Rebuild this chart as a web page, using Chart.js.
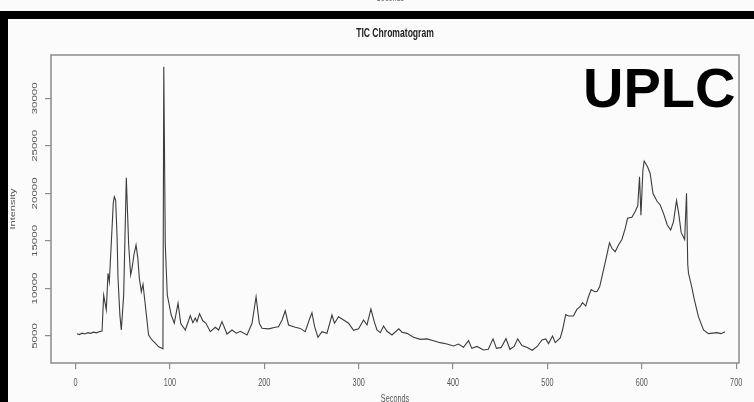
<!DOCTYPE html>
<html>
<head>
<meta charset="utf-8">
<script src="https://cdn.jsdelivr.net/npm/chart.js@4.4.1/dist/chart.umd.min.js"></script>
<style>
html, body { margin: 0; padding: 0; background: #fbfbfb; }
#wrap { position: relative; width: 754px; height: 402px; overflow: hidden; background: #fbfbfb; }
#chart { position: absolute; left: 0; top: 0; }
.bar-top { position: absolute; left: 0; top: 11px; width: 754px; height: 8px; background: #000; }
.bar-left { position: absolute; left: 0; top: 11px; width: 8px; height: 391px; background: #000; }
.prev-label { position: absolute; left: 376px; top: -9px; font: 11px "Liberation Sans", Arial, sans-serif; color: #666; transform: scaleX(0.66); transform-origin: left top; }
</style>
</head>
<body>
<div id="wrap">
  <canvas id="chart" width="754" height="402"></canvas>
  <div class="prev-label">Seconds</div>
  <div class="bar-top"></div>
  <div class="bar-left"></div>
</div>
<script>
// retention time (s) and total ion current
const seconds = [
  1.6, 4, 7, 10, 13, 16, 19, 22, 25, 28.1,
  29.8, 32.6, 34.4, 35.8, 38, 40, 41.1, 42.5, 44, 45, 47, 48.5,
  51, 53.8, 56.3, 58.4, 59.9, 62, 64.1, 66, 67.6, 69.7, 71.5, 73.9, 77.4, 81, 85, 88, 91.6, 92.6,
  93.5, 95.1, 97.2, 101.4, 104.6, 108.6, 111.5, 116.3, 121.6, 124.3, 126.9, 128.7, 131.4, 134.9, 138.2, 142.8,
  148.1, 151.6, 155.2, 160.5, 165.8, 170.3, 174.6, 181.7, 187, 191.3, 194.7, 197.6, 204.6, 211.7, 215.1, 218.8,
  222.2, 225.7, 232.8, 238.1, 243.4, 247.6, 250.5, 253.3, 256.9, 261.1, 266.4, 271.7, 274.4, 278.7, 284, 289.3,
  294.6, 299.9, 305.2, 308.8, 313, 316.5, 319.4, 322.9, 326.4, 330, 335.3, 342.5, 345.9, 351.2, 358.2, 365.3,
  372.4, 379.3, 386.4, 393.5, 400.5, 405.8, 411.1, 416.4, 420, 425.3, 432.3, 437.3, 442.4, 446, 451, 456.1,
  460.3, 464.8, 468.5, 473, 478.6, 483.9, 489.2, 494.2, 498.2, 501.2, 505.4, 508.3, 513.6, 516, 519.4, 522.4,
  527.6, 531.2, 534.7, 537.2, 540.6, 543.5, 546.4, 550.1, 552.8, 555.4, 559.4, 562.3, 565.8, 568.3, 571.8, 575.3,
  578.9, 582.4, 584.9, 589.5, 593, 595.7, 597.6, 599.1, 601.2, 602.5, 606.1, 608.9, 611.8, 616, 619.5, 623,
  626.9, 630.6, 633.6, 636.8, 639.1, 641.7, 645.4, 647.4, 648.7, 649.5, 653.1, 655.5, 660, 665.4, 670.6, 675.1,
  679.6, 683.9, 688.3
];
const intensity = [
  5240, 5150, 5300, 5220, 5350, 5280, 5400, 5330, 5450, 5530,
  9300, 7750, 11600, 10700, 15000, 19000, 19650, 19300, 15500, 11100, 7200, 5630,
  9300, 21650, 14570, 11420, 12150, 13600, 14570, 13200, 11070, 9660, 10440, 8260, 5110, 4580, 4200, 3870, 3700, 3650,
  33330, 14570, 9310, 7210, 6340, 8440, 6300, 5630, 7150, 6400, 6900, 6500, 7350, 6600, 6340, 5460,
  5920, 5630, 6510, 5210, 5630, 5300, 5500, 5110, 6340, 9130, 6340, 5810, 5750, 5920, 5980, 6680,
  7650, 6160, 5920, 5800, 5460, 6680, 7450, 5980, 4860, 5460, 5280, 7210, 6340, 7030, 6680, 6340,
  5600, 5750, 6680, 6160, 7850, 6510, 5630, 5350, 6050, 5500, 5110, 5750, 5400, 5280, 4860, 4650,
  4700, 4510, 4300, 4160, 3950, 4150, 3810, 4510, 3700, 3900, 3530, 3600, 4700, 3700, 3800, 4720,
  3600, 3900, 4700, 4000, 3800, 3500, 3900, 4580, 4700, 4200, 5000, 4300, 4800, 5630, 7250, 7100,
  7100, 7800, 8080, 8500, 8150, 9130, 9880, 9660, 9700, 10200, 11940, 13220, 14800, 14230, 13870, 14570,
  15150, 16300, 17380, 17500, 18100, 18700, 21760, 17700, 22460, 23400, 22800, 22100, 20010, 19200, 18780, 17900,
  16700, 16150, 17030, 19250, 17900, 15900, 15150, 20010, 12500, 11600, 10100, 8900, 7030, 5630, 5250, 5300,
  5350, 5250, 5450
];
const xTicks = [0, 100, 200, 300, 400, 500, 600, 700];
const yTicks = [5000, 10000, 15000, 20000, 25000, 30000];
const xRange = [-26, 703];
const yRange = [2160, 34560];

const FONT = '"Liberation Sans", Arial, sans-serif';
const SQUEEZE = 0.66;

// box, tick labels, titles and the badge, drawn in base-graphics style
const frameAndText = {
  id: 'frameAndText',
  afterDraw(chart) {
    const ctx = chart.ctx;
    const area = chart.chartArea;
    const xs = chart.scales.x, ys = chart.scales.y;
    ctx.save();
    ctx.strokeStyle = '#8c8c8c';
    ctx.lineWidth = 1.5;
    ctx.strokeRect(area.left, area.top, area.right - area.left, area.bottom - area.top);

    ctx.fillStyle = '#555';
    ctx.textAlign = 'center';
    ctx.textBaseline = 'middle';
    ctx.font = '11px ' + FONT;
    xTicks.forEach(v => {
      ctx.save();
      ctx.translate(xs.getPixelForValue(v), 383);
      ctx.scale(SQUEEZE, 1);
      ctx.fillText(String(v), 0, 0);
      ctx.restore();
    });
    ctx.font = '11.5px ' + FONT;
    yTicks.forEach(v => {
      ctx.save();
      ctx.translate(35, ys.getPixelForValue(v));
      ctx.scale(SQUEEZE, 1);
      ctx.rotate(-Math.PI / 2);
      ctx.fillText(String(v), 0, 0);
      ctx.restore();
    });

    // axis titles
    ctx.font = '11px ' + FONT;
    ctx.save();
    ctx.translate((area.left + area.right) / 2, 399);
    ctx.scale(SQUEEZE, 1);
    ctx.fillText('Seconds', 0, 0);
    ctx.restore();
    ctx.save();
    ctx.translate(13, (area.top + area.bottom) / 2);
    ctx.scale(SQUEEZE, 1);
    ctx.rotate(-Math.PI / 2);
    ctx.fillText('Intensity', 0, 0);
    ctx.restore();

    // main title
    ctx.fillStyle = '#222';
    ctx.font = 'bold 13px ' + FONT;
    ctx.save();
    ctx.translate((area.left + area.right) / 2, 33);
    ctx.scale(SQUEEZE, 1);
    ctx.fillText('TIC Chromatogram', 0, 0);
    ctx.restore();

    // badge
    ctx.fillStyle = '#000';
    ctx.font = 'bold 56px ' + FONT;
    ctx.textAlign = 'left';
    ctx.textBaseline = 'alphabetic';
    ctx.fillText('UPLC', 583, 107);
    ctx.restore();
  }
};

new Chart(document.getElementById('chart'), {
  type: 'line',
  data: {
    datasets: [{
      data: seconds.map((s, i) => ({ x: s, y: intensity[i] })),
      borderColor: '#3c3c3c',
      borderWidth: 1.1,
      pointRadius: 0,
      tension: 0,
      fill: false
    }]
  },
  options: {
    responsive: false,
    animation: false,
    events: [],
    layout: { padding: { left: 0, right: 15, top: 55, bottom: 0 } },
    plugins: {
      legend: { display: false },
      title: { display: false },
      tooltip: { enabled: false }
    },
    scales: {
      x: {
        type: 'linear',
        min: xRange[0],
        max: xRange[1],
        afterBuildTicks: s => { s.ticks = xTicks.map(v => ({ value: v })); },
        afterFit: s => { s.height = 39; },
        ticks: { display: false },
        border: { display: false },
        grid: { drawOnChartArea: false, drawTicks: true, tickLength: 6, color: '#8c8c8c', lineWidth: 1.2 }
      },
      y: {
        type: 'linear',
        min: yRange[0],
        max: yRange[1],
        afterBuildTicks: s => { s.ticks = yTicks.map(v => ({ value: v })); },
        afterFit: s => { s.width = 51; },
        ticks: { display: false },
        border: { display: false },
        grid: { drawOnChartArea: false, drawTicks: true, tickLength: 6, color: '#8c8c8c', lineWidth: 1.2 }
      }
    }
  },
  plugins: [frameAndText]
});
</script>
</body>
</html>
